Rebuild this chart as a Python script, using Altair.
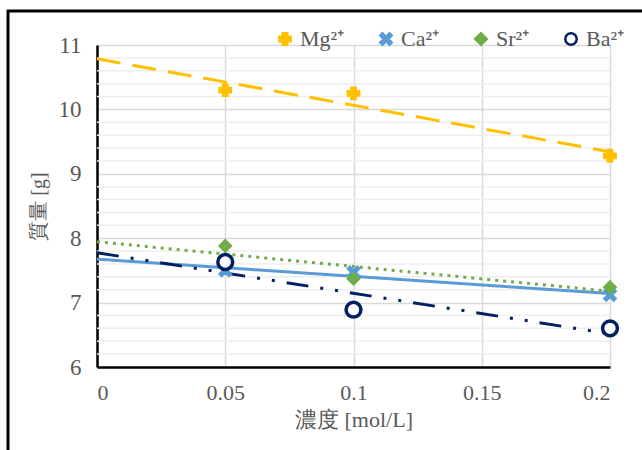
import altair as alt
import pandas as pd

ions = ["Mg²⁺", "Ca²⁺", "Sr²⁺", "Ba²⁺"]
conc = [0.05, 0.1, 0.2]
mg = [10.3, 10.25, 9.28]
ca = [7.5, 7.47, 7.12]
sr = [7.88, 7.37, 7.24]
ba = [7.63, 6.89, 6.6]

x_ticks = [0, 0.05, 0.1, 0.15, 0.2]
y_ticks = [6, 7, 8, 9, 10, 11]
y_minor = [6.2, 6.4, 6.6, 6.8, 7.2, 7.4, 7.6, 7.8, 8.2, 8.4, 8.6, 8.8,
           9.2, 9.4, 9.6, 9.8, 10.2, 10.4, 10.6, 10.8]

colors = ["#FFC000", "#5B9BD5", "#70AD47", "#002060"]
fills = ["#FFC000", "#5B9BD5", "#70AD47", "#FFFFFF"]
xpath = ("M-1,-0.62L-0.62,-1L0,-0.38L0.62,-1L1,-0.62L0.38,0L1,0.62L0.62,1"
         "L0,0.38L-0.62,1L-1,0.62L-0.38,0Z")
shapes = ["cross", xpath, "diamond", "circle"]
dashes = [[24, 12], [1, 0], [3, 5], [22, 12, 3, 12, 3, 12]]

rows = []
for name, vals in zip(ions, [mg, ca, sr, ba]):
    for c, v in zip(conc, vals):
        rows.append({"ion": name, "c": c, "m": v})
df = pd.DataFrame(rows)
minor_df = pd.DataFrame({"m": y_minor})

FONT = "Liberation Serif"
GRAY = "#595959"

xscale = alt.Scale(domain=[0, 0.2], nice=False, zero=False)
yscale = alt.Scale(domain=[6, 11], nice=False, zero=False)

def xaxis():
    return alt.Axis(values=x_ticks, format="~g", ticks=False, domainColor="black",
                    domainWidth=2.5, gridColor="#d9d9d9", gridWidth=1.5,
                    labelFont=FONT, labelFontSize=22, labelColor=GRAY, labelPadding=15,
                    title="濃度 [mol/L]", titleFont=FONT, titleFontSize=22,
                    titleColor=GRAY, titleFontWeight="normal", titlePadding=6)

def yaxis():
    return alt.Axis(values=y_ticks, format="d", ticks=False, domainColor="black",
                    domainWidth=2.5, gridColor="#d9d9d9", gridWidth=1.5,
                    labelFont=FONT, labelFontSize=23, labelColor=GRAY, labelPadding=16,
                    title="質量 [g]", titleFont=FONT, titleFontSize=20,
                    titleColor=GRAY, titleFontWeight="normal", titlePadding=10)

minor = alt.Chart(minor_df).mark_rule(color="#eeeeee", strokeWidth=1.5).encode(
    y=alt.Y("m:Q", scale=yscale, axis=yaxis()),
    x=alt.value(0), x2=alt.value(513),
)

base = alt.Chart(df)

trend_layers = []
for name, col, dash in zip(ions, colors, dashes):
    trend_layers.append(
        base.transform_filter(alt.datum.ion == name)
        .transform_regression("c", "m", extent=[0, 0.2])
        .mark_line(color=col, strokeDash=dash, strokeWidth=3)
        .encode(
            x=alt.X("c:Q", scale=xscale, axis=xaxis()),
            y=alt.Y("m:Q", scale=yscale, axis=yaxis()),
        )
    )

def leg():
    return alt.Legend(title=None, orient="none", legendX=177, legendY=-17,
                      direction="horizontal", labelFont=FONT, labelFontSize=22,
                      labelColor=GRAY, symbolSize=130, symbolStrokeWidth=2.5,
                      columnPadding=30, labelOffset=4, padding=0)

def point_enc(ch):
    return ch.encode(
        x=alt.X("c:Q", scale=xscale, axis=xaxis()),
        y=alt.Y("m:Q", scale=yscale, axis=yaxis()),
        fill=alt.Fill("ion:N", scale=alt.Scale(domain=ions, range=fills), legend=leg()),
        stroke=alt.Stroke("ion:N", scale=alt.Scale(domain=ions, range=colors),
                          legend=leg()),
        shape=alt.Shape("ion:N", scale=alt.Scale(domain=ions, range=shapes),
                        legend=leg()),
    )

pts_small = point_enc(
    base.transform_filter(alt.datum.ion != "Ba²⁺")
    .mark_point(filled=True, strokeWidth=2, size=140, opacity=1)
)
pts_ba = point_enc(
    base.transform_filter(alt.datum.ion == "Ba²⁺")
    .mark_point(filled=True, strokeWidth=3.5, size=220, opacity=1)
)

frame_df = pd.DataFrame({"k": [0]})
frame_v = alt.Chart(frame_df).mark_rule(color="black", strokeWidth=3).encode(
    x=alt.value(-89), y=alt.value(-35), y2=alt.value(405))
frame_h = alt.Chart(frame_df).mark_rule(color="black", strokeWidth=3).encode(
    x=alt.value(-90), x2=alt.value(545), y=alt.value(-34))

chart = alt.layer(minor, *trend_layers, pts_small, pts_ba, frame_v, frame_h).properties(
    width=513, height=322,
    autosize=alt.AutoSizeParams(type="none"),
    padding={"left": 97, "top": 45, "right": 32, "bottom": 83},
).configure_view(stroke=None)

chart.save("out.html", embed_options={"renderer": "svg", "actions": False})
